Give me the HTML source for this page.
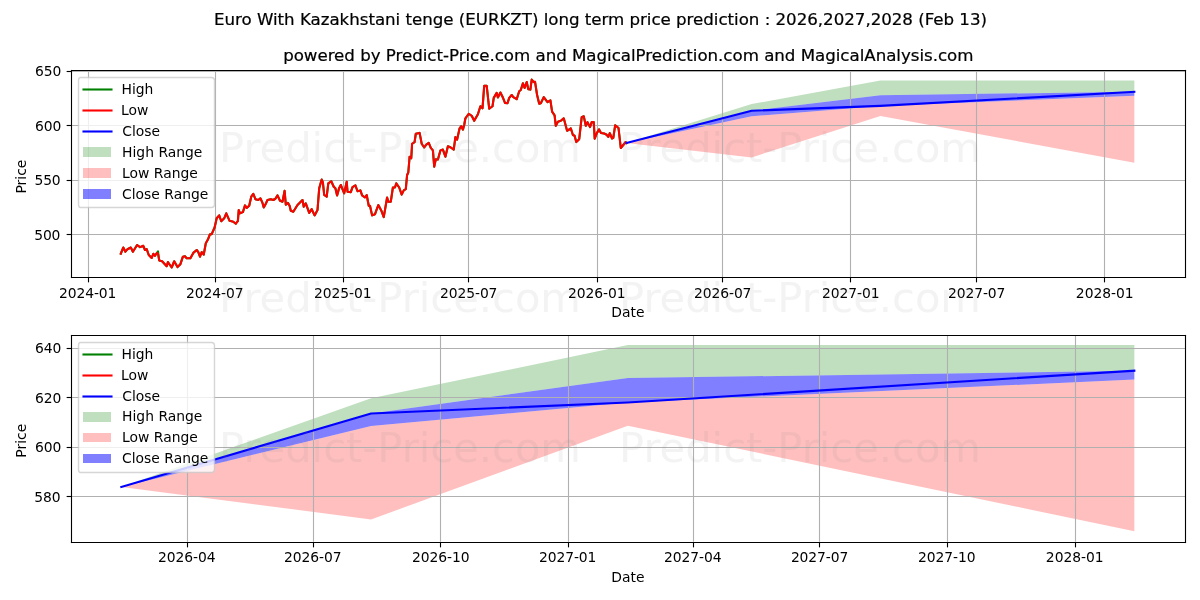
<!DOCTYPE html>
<html lang="en">
<head>
<meta charset="utf-8">
<title>EURKZT long term price prediction</title>
<style>
html,body{margin:0;padding:0;background:#fff;}
body{width:1200px;height:600px;overflow:hidden;font-family:"DejaVu Sans","Liberation Sans",sans-serif;}
svg{will-change:transform;}
svg text{font-family:"DejaVu Sans","Liberation Sans",sans-serif;}
</style>
</head>
<body>
<svg width="1200" height="600" viewBox="0 0 1200 600" style="display:block">
 <defs>
  <style type="text/css">*{stroke-linejoin: round; stroke-linecap: butt}</style>
 </defs>
 <g id="figure_1">
  <g id="patch_1">
   <path d="M 0 600 L 1200 600 L 1200 0 L 0 0 z" style="fill: #ffffff"/>
  </g>
  <g id="axes_1">
   <g id="patch_2">
    <path d="M 71 277 L 1185 277 L 1185 70 L 71 70 z" style="fill: #ffffff"/>
   </g>
   <g id="FillBetweenPolyCollection_1">
    <path d="M 626.436502 143.081598 L 626.436502 143.081598 L 751.675206 110.737345 L 880.392764 95.135999 L 1134.349025 91.874393 L 1134.349025 80.567494 L 1134.349025 80.567494 L 880.392764 80.567494 L 751.675206 104.051053 L 626.436502 143.081598 z
" clip-path="url(#p4bee99dd8d)" style="fill: #008000; fill-opacity: 0.25"/>
   </g>
   <g id="FillBetweenPolyCollection_2">
    <path d="M 626.436502 143.081598 L 626.436502 143.081598 L 751.675206 157.432662 L 880.392764 116.118994 L 1134.349025 162.651231 L 1134.349025 95.78832 L 1134.349025 95.78832 L 880.392764 105.899296 L 751.675206 116.227714 L 626.436502 143.081598 z
" clip-path="url(#p4bee99dd8d)" style="fill: #ff0000; fill-opacity: 0.25"/>
   </g>
   <g id="FillBetweenPolyCollection_3">
    <path d="M 626.436502 143.081598 L 626.436502 143.081598 L 751.675206 116.227714 L 880.392764 105.899296 L 1134.349025 95.78832 L 1134.349025 91.874393 L 1134.349025 91.874393 L 880.392764 95.135999 L 751.675206 110.737345 L 626.436502 143.081598 z
" clip-path="url(#p4bee99dd8d)" style="fill: #0000ff; fill-opacity: 0.5"/>
   </g>
   <g id="matplotlib.axis_1">
    <g id="xtick_1">
     <g id="line2d_1">
      <path d="M 88.5 277.5 L 88.5 70.5" clip-path="url(#p4bee99dd8d)" style="fill: none; stroke: #b0b0b0; stroke-width: 1.111111; stroke-linecap: square"/>
     </g>
     <g id="line2d_2">
      <defs>
       <path id="mf3acd94721" d="M 0 0 L 0 4.861111 
" style="stroke: #000000; stroke-width: 1.111111"/>
      </defs>
      <g>
       <use href="#mf3acd94721" x="88.5" y="277.5" style="stroke: #000000; stroke-width: 1.111111"/>
      </g>
     </g>
     <g id="text_1">
      <text style="font-size: 13.888889px; font-family: 'DejaVu Sans', 'Liberation Sans', sans-serif; text-anchor: middle" x="87.66" y="297.612" textLength="57.5">2024-01</text>
     </g>
    </g>
    <g id="xtick_2">
     <g id="line2d_3">
      <path d="M 215.5 277.5 L 215.5 70.5" clip-path="url(#p4bee99dd8d)" style="fill: none; stroke: #b0b0b0; stroke-width: 1.111111; stroke-linecap: square"/>
     </g>
     <g id="line2d_4">
      <g>
       <use href="#mf3acd94721" x="215.5" y="277.5" style="stroke: #000000; stroke-width: 1.111111"/>
      </g>
     </g>
     <g id="text_2">
      <text style="font-size: 13.888889px; font-family: 'DejaVu Sans', 'Liberation Sans', sans-serif; text-anchor: middle" x="214.79" y="297.612" textLength="57.375">2024-07</text>
     </g>
    </g>
    <g id="xtick_3">
     <g id="line2d_5">
      <path d="M 343.5 277.5 L 343.5 70.5" clip-path="url(#p4bee99dd8d)" style="fill: none; stroke: #b0b0b0; stroke-width: 1.111111; stroke-linecap: square"/>
     </g>
     <g id="line2d_6">
      <g>
       <use href="#mf3acd94721" x="343.5" y="277.5" style="stroke: #000000; stroke-width: 1.111111"/>
      </g>
     </g>
     <g id="text_3">
      <text style="font-size: 13.888889px; font-family: 'DejaVu Sans', 'Liberation Sans', sans-serif; text-anchor: middle" x="342.812" y="297.612" textLength="57.5">2025-01</text>
     </g>
    </g>
    <g id="xtick_4">
     <g id="line2d_7">
      <path d="M 468.5 277.5 L 468.5 70.5" clip-path="url(#p4bee99dd8d)" style="fill: none; stroke: #b0b0b0; stroke-width: 1.111111; stroke-linecap: square"/>
     </g>
     <g id="line2d_8">
      <g>
       <use href="#mf3acd94721" x="468.5" y="277.5" style="stroke: #000000; stroke-width: 1.111111"/>
      </g>
     </g>
     <g id="text_4">
      <text style="font-size: 13.888889px; font-family: 'DejaVu Sans', 'Liberation Sans', sans-serif; text-anchor: middle" x="468.747" y="297.612" textLength="57.375">2025-07</text>
     </g>
    </g>
    <g id="xtick_5">
     <g id="line2d_9">
      <path d="M 597.5 277.5 L 597.5 70.5" clip-path="url(#p4bee99dd8d)" style="fill: none; stroke: #b0b0b0; stroke-width: 1.111111; stroke-linecap: square"/>
     </g>
     <g id="line2d_10">
      <g>
       <use href="#mf3acd94721" x="597.5" y="277.5" style="stroke: #000000; stroke-width: 1.111111"/>
      </g>
     </g>
     <g id="text_5">
      <text style="font-size: 13.888889px; font-family: 'DejaVu Sans', 'Liberation Sans', sans-serif; text-anchor: middle" x="596.768" y="297.612" textLength="57.625">2026-01</text>
     </g>
    </g>
    <g id="xtick_6">
     <g id="line2d_11">
      <path d="M 722.5 277.5 L 722.5 70.5" clip-path="url(#p4bee99dd8d)" style="fill: none; stroke: #b0b0b0; stroke-width: 1.111111; stroke-linecap: square"/>
     </g>
     <g id="line2d_12">
      <g>
       <use href="#mf3acd94721" x="722.5" y="277.5" style="stroke: #000000; stroke-width: 1.111111"/>
      </g>
     </g>
     <g id="text_6">
      <text style="font-size: 13.888889px; font-family: 'DejaVu Sans', 'Liberation Sans', sans-serif; text-anchor: middle" x="722.703" y="297.612" textLength="57.5">2026-07</text>
     </g>
    </g>
    <g id="xtick_7">
     <g id="line2d_13">
      <path d="M 850.5 277.5 L 850.5 70.5" clip-path="url(#p4bee99dd8d)" style="fill: none; stroke: #b0b0b0; stroke-width: 1.111111; stroke-linecap: square"/>
     </g>
     <g id="line2d_14">
      <g>
       <use href="#mf3acd94721" x="850.5" y="277.5" style="stroke: #000000; stroke-width: 1.111111"/>
      </g>
     </g>
     <g id="text_7">
      <text style="font-size: 13.888889px; font-family: 'DejaVu Sans', 'Liberation Sans', sans-serif; text-anchor: middle" x="850.725" y="297.612" textLength="57.5">2027-01</text>
     </g>
    </g>
    <g id="xtick_8">
     <g id="line2d_15">
      <path d="M 976.5 277.5 L 976.5 70.5" clip-path="url(#p4bee99dd8d)" style="fill: none; stroke: #b0b0b0; stroke-width: 1.111111; stroke-linecap: square"/>
     </g>
     <g id="line2d_16">
      <g>
       <use href="#mf3acd94721" x="976.5" y="277.5" style="stroke: #000000; stroke-width: 1.111111"/>
      </g>
     </g>
     <g id="text_8">
      <text style="font-size: 13.888889px; font-family: 'DejaVu Sans', 'Liberation Sans', sans-serif; text-anchor: middle" x="976.659" y="297.612" textLength="57.375">2027-07</text>
     </g>
    </g>
    <g id="xtick_9">
     <g id="line2d_17">
      <path d="M 1104.5 277.5 L 1104.5 70.5" clip-path="url(#p4bee99dd8d)" style="fill: none; stroke: #b0b0b0; stroke-width: 1.111111; stroke-linecap: square"/>
     </g>
     <g id="line2d_18">
      <g>
       <use href="#mf3acd94721" x="1104.5" y="277.5" style="stroke: #000000; stroke-width: 1.111111"/>
      </g>
     </g>
     <g id="text_9">
      <text style="font-size: 13.888889px; font-family: 'DejaVu Sans', 'Liberation Sans', sans-serif; text-anchor: middle" x="1104.681" y="297.612" textLength="57.625">2028-01</text>
     </g>
    </g>
    <g id="text_10">
     <text style="font-size: 13.888889px; font-family: 'DejaVu Sans', 'Liberation Sans', sans-serif; text-anchor: middle" x="627.826889" y="317.167167" textLength="33.375">Date</text>
    </g>
   </g>
   <g id="matplotlib.axis_2">
    <g id="ytick_1">
     <g id="line2d_19">
      <path d="M 71.5 234.5 L 1185.5 234.5" clip-path="url(#p4bee99dd8d)" style="fill: none; stroke: #b0b0b0; stroke-width: 1.111111; stroke-linecap: square"/>
     </g>
     <g id="line2d_20">
      <defs>
       <path id="mcb02be6ef6" d="M 0 0 L -4.861111 0 
" style="stroke: #000000; stroke-width: 1.111111"/>
      </defs>
      <g>
       <use href="#mcb02be6ef6" x="71.5" y="234.5" style="stroke: #000000; stroke-width: 1.111111"/>
      </g>
     </g>
     <g id="text_11">
      <text style="font-size: 13.888889px; font-family: 'DejaVu Sans', 'Liberation Sans', sans-serif; text-anchor: end" x="60.431" y="239.58" textLength="26.25">500</text>
     </g>
    </g>
    <g id="ytick_2">
     <g id="line2d_21">
      <path d="M 71.5 180.5 L 1185.5 180.5" clip-path="url(#p4bee99dd8d)" style="fill: none; stroke: #b0b0b0; stroke-width: 1.111111; stroke-linecap: square"/>
     </g>
     <g id="line2d_22">
      <g>
       <use href="#mcb02be6ef6" x="71.5" y="180.5" style="stroke: #000000; stroke-width: 1.111111"/>
      </g>
     </g>
     <g id="text_12">
      <text style="font-size: 13.888889px; font-family: 'DejaVu Sans', 'Liberation Sans', sans-serif; text-anchor: end" x="60.681" y="185.22" textLength="26.25">550</text>
     </g>
    </g>
    <g id="ytick_3">
     <g id="line2d_23">
      <path d="M 71.5 125.5 L 1185.5 125.5" clip-path="url(#p4bee99dd8d)" style="fill: none; stroke: #b0b0b0; stroke-width: 1.111111; stroke-linecap: square"/>
     </g>
     <g id="line2d_24">
      <g>
       <use href="#mcb02be6ef6" x="71.5" y="125.5" style="stroke: #000000; stroke-width: 1.111111"/>
      </g>
     </g>
     <g id="text_13">
      <text style="font-size: 13.888889px; font-family: 'DejaVu Sans', 'Liberation Sans', sans-serif; text-anchor: end" x="61.431" y="130.86" textLength="26.375">600</text>
     </g>
    </g>
    <g id="ytick_4">
     <g id="line2d_25">
      <path d="M 71.5 71.5 L 1185.5 71.5" clip-path="url(#p4bee99dd8d)" style="fill: none; stroke: #b0b0b0; stroke-width: 1.111111; stroke-linecap: square"/>
     </g>
     <g id="line2d_26">
      <g>
       <use href="#mcb02be6ef6" x="71.5" y="71.5" style="stroke: #000000; stroke-width: 1.111111"/>
      </g>
     </g>
     <g id="text_14">
      <text style="font-size: 13.888889px; font-family: 'DejaVu Sans', 'Liberation Sans', sans-serif; text-anchor: end" x="61.431" y="75.5" textLength="26.375">650</text>
     </g>
    </g>
    <g id="text_15">
     <text style="font-size: 13.888889px; font-family: 'DejaVu Sans', 'Liberation Sans', sans-serif; text-anchor: middle" x="26" y="173.611361" transform="translate(0 3) rotate(-90 26 173.611361)" textLength="33.875">Price</text>
    </g>
   </g>
   <g id="line2d_27">
    <path d="M 120.800101 253.750423 L 123.300103 247.500413 L 125.400104 251.70042 L 127.500106 249.200415 L 130.800109 247.500413 L 132.900111 251.70042 L 137.100114 245.000408 L 140.000117 247.100412 L 143.300119 245.80041 L 145.000121 250.000417 L 146.700122 249.200415 L 148.750124 255.000425 L 151.700126 257.90043 L 153.300128 253.750423 L 155.000129 255.800426 L 156.800131 253.000422 L 158.000132 251.400419 L 159.200133 260.400434 L 162.100135 261.250435 L 166.700139 266.250444 L 167.90014 262.100437 L 171.700143 267.500446 L 174.200145 261.250435 L 177.500148 267.100445 L 180.40015 264.20044 L 182.900152 256.700428 L 185.000154 256.250427 L 186.700156 258.300431 L 190.400159 258.300431 L 193.300161 252.900422 L 196.700164 250.000417 L 198.300165 252.10042 L 200.000167 256.700428 L 201.700168 252.10042 L 203.75017 254.600424 L 205.800171 243.300406 L 207.900173 239.600399 L 210.000175 234.20039 L 211.700176 234.20039 L 214.600179 227.500379 L 216.700181 218.300364 L 219.200183 215.400359 L 221.250184 221.250369 L 224.200187 218.300364 L 226.250189 213.300356 L 229.600191 220.800368 L 233.300194 221.700369 L 235.800196 223.750373 L 237.900198 220.800368 L 238.750199 210.00035 L 240.0002 213.300356 L 242.900202 212.100354 L 245.000204 205.400342 L 246.700206 207.900347 L 249.200208 205.800343 L 251.250209 196.700328 L 253.300211 193.750323 L 255.400213 199.200332 L 258.300215 200.000333 L 260.400217 198.300331 L 262.500219 202.900338 L 263.75022 207.500346 L 265.400221 204.600341 L 267.500223 200.000333 L 270.800226 199.200332 L 273.300228 200.000333 L 275.400229 198.750331 L 277.500231 195.400326 L 280.000233 200.800335 L 282.500235 201.700336 L 284.600237 190.800318 L 285.800238 204.600341 L 287.90024 202.900338 L 289.600241 205.800343 L 290.800242 210.800351 L 293.300244 211.700353 L 297.500248 205.000342 L 302.500252 200.000333 L 303.750253 206.700345 L 305.800255 203.300339 L 309.200258 212.900355 L 311.70026 209.200349 L 314.600262 215.400359 L 317.500265 210.00035 L 319.200266 188.300314 L 321.700268 179.600299 L 322.900269 182.500304 L 324.20027 195.000325 L 326.700272 196.700328 L 328.300274 183.300306 L 331.250276 181.250302 L 333.750278 186.700311 L 335.400279 188.300314 L 337.100281 195.400326 L 339.200283 187.900313 L 340.800284 185.000308 L 344.200287 193.300322 L 346.700289 181.700303 L 347.50029 191.70032 L 350.800292 192.10032 L 352.500294 187.100312 L 355.400296 185.400309 L 357.500298 191.250319 L 360.4003 190.400317 L 362.100302 195.400326 L 365.000304 197.500329 L 366.700306 195.000325 L 368.750307 205.800343 L 370.000308 205.800343 L 372.10031 215.400359 L 375.000312 214.200357 L 378.300315 205.000342 L 381.250318 210.400351 L 383.75032 217.100362 L 387.100323 197.500329 L 388.300324 201.700336 L 390.800326 201.700336 L 392.900327 187.500313 L 395.000329 187.500313 L 396.25033 183.300306 L 399.200333 187.500313 L 401.700335 194.600324 L 403.750336 190.400317 L 405.800338 189.200315 L 407.100339 175.000292 L 408.30034 172.500288 L 409.600341 156.700261 L 411.250343 158.300264 L 412.100343 143.75024 L 414.600345 142.100237 L 415.800346 133.750223 L 419.60035 132.900222 L 421.700351 143.75024 L 424.200353 147.500246 L 426.250355 144.600241 L 428.750357 142.900238 L 430.800359 147.900247 L 432.900361 150.400251 L 434.200362 166.700278 L 435.800363 159.200265 L 437.900365 159.600266 L 440.400367 150.400251 L 442.900369 149.600249 L 445.400371 156.700261 L 447.900373 146.250244 L 450.800376 147.500246 L 453.750378 149.600249 L 455.400379 137.100229 L 457.100381 139.600233 L 459.600383 128.300214 L 461.250384 126.25021 L 462.900386 129.600216 L 464.200387 125.000208 L 465.400388 118.300197 L 468.750391 113.75019 L 471.700393 115.800193 L 474.200395 120.800201 L 477.900398 114.20019 L 480.4004 106.250177 L 482.500402 108.300181 L 484.200403 85.800143 L 486.700406 85.800143 L 489.200408 108.750181 L 492.50041 106.250177 L 493.750411 97.900163 L 496.700414 92.900155 L 497.900415 97.500163 L 500.400417 92.500154 L 502.500419 96.700161 L 505.000421 102.900172 L 507.500423 103.300172 L 509.200424 97.900163 L 511.700426 95.000158 L 513.300428 97.100162 L 516.700431 99.200165 L 519.200433 91.250152 L 520.800434 90.00015 L 522.900436 83.300139 L 524.600437 87.900147 L 526.700439 82.100137 L 528.30044 89.200149 L 530.400442 89.600149 L 531.700443 79.600133 L 533.750445 82.100137 L 535.000446 81.700136 L 537.100448 95.000158 L 539.200449 103.750173 L 540.800451 103.300172 L 543.750453 97.100162 L 547.500456 102.10017 L 550.400459 100.400167 L 552.10046 111.700186 L 554.600462 115.400192 L 555.800463 125.80021 L 557.900465 121.700203 L 560.800467 120.800201 L 563.75047 118.300197 L 567.100473 130.800218 L 570.800476 128.300214 L 572.900477 135.000225 L 574.600479 135.800226 L 576.25048 142.100237 L 579.200483 139.200232 L 581.700485 117.100195 L 583.750486 116.250194 L 585.800488 125.80021 L 587.50049 122.100204 L 590.000492 127.100212 L 591.700493 122.100204 L 593.750495 122.100204 L 594.700496 138.700231 L 596.700497 133.400222 L 599.100499 129.400216 L 601.000501 133.000222 L 604.100503 133.500223 L 606.700506 134.800225 L 608.300507 137.000228 L 609.800508 133.100222 L 612.00051 138.500231 L 613.300511 137.80023 L 615.200513 125.200209 L 618.500515 128.000213 L 620.800517 148.000247 L 625.700521 142.000237 L 626.436502 143.081598 L 626.436502 143.081598 
" clip-path="url(#p4bee99dd8d)" style="fill: none; stroke: #008000; stroke-width: 2.083333; stroke-linecap: square"/>
   </g>
   <g id="line2d_28">
    <path d="M 120.800101 253.750423 L 123.300103 247.500413 L 125.400104 251.70042 L 127.500106 249.200415 L 130.800109 247.500413 L 132.900111 251.70042 L 137.100114 245.000408 L 140.000117 247.100412 L 143.300119 245.80041 L 145.000121 250.000417 L 146.700122 249.200415 L 148.750124 255.000425 L 151.700126 257.90043 L 153.300128 253.750423 L 155.000129 255.800426 L 156.800131 253.000422 L 158.000132 253.800423 L 159.200133 260.400434 L 162.100135 261.250435 L 166.700139 266.250444 L 167.90014 262.100437 L 171.700143 267.500446 L 174.200145 261.250435 L 177.500148 267.100445 L 180.40015 264.20044 L 182.900152 256.700428 L 185.000154 256.250427 L 186.700156 258.300431 L 190.400159 258.300431 L 193.300161 252.900422 L 196.700164 250.000417 L 198.300165 252.10042 L 200.000167 256.700428 L 201.700168 252.10042 L 203.75017 254.600424 L 205.800171 243.300406 L 207.900173 239.600399 L 210.000175 234.20039 L 211.700176 234.20039 L 214.600179 227.500379 L 216.700181 218.300364 L 219.200183 215.400359 L 221.250184 221.250369 L 224.200187 218.300364 L 226.250189 213.300356 L 229.600191 220.800368 L 233.300194 221.700369 L 235.800196 223.750373 L 237.900198 220.800368 L 238.750199 210.00035 L 240.0002 213.300356 L 242.900202 212.100354 L 245.000204 205.400342 L 246.700206 207.900347 L 249.200208 205.800343 L 251.250209 196.700328 L 253.300211 193.750323 L 255.400213 199.200332 L 258.300215 200.000333 L 260.400217 198.300331 L 262.500219 202.900338 L 263.75022 207.500346 L 265.400221 204.600341 L 267.500223 200.000333 L 270.800226 199.200332 L 273.300228 200.000333 L 275.400229 198.750331 L 277.500231 195.400326 L 280.000233 200.800335 L 282.500235 201.700336 L 284.600237 190.800318 L 285.800238 204.600341 L 287.90024 202.900338 L 289.600241 205.800343 L 290.800242 210.800351 L 293.300244 211.700353 L 297.500248 205.000342 L 302.500252 200.000333 L 303.750253 206.700345 L 305.800255 203.300339 L 309.200258 212.900355 L 311.70026 209.200349 L 314.600262 215.400359 L 317.500265 210.00035 L 319.200266 188.300314 L 321.700268 179.600299 L 322.900269 182.500304 L 324.20027 195.000325 L 326.700272 196.700328 L 328.300274 183.300306 L 331.250276 181.250302 L 333.750278 186.700311 L 335.400279 188.300314 L 337.100281 195.400326 L 339.200283 187.900313 L 340.800284 185.000308 L 344.200287 193.300322 L 346.700289 181.700303 L 347.50029 191.70032 L 350.800292 192.10032 L 352.500294 187.100312 L 355.400296 185.400309 L 357.500298 191.250319 L 360.4003 190.400317 L 362.100302 195.400326 L 365.000304 197.500329 L 366.700306 195.000325 L 368.750307 205.800343 L 370.000308 205.800343 L 372.10031 215.400359 L 375.000312 214.200357 L 378.300315 205.000342 L 381.250318 210.400351 L 383.75032 217.100362 L 387.100323 197.500329 L 388.300324 201.700336 L 390.800326 201.700336 L 392.900327 187.500313 L 395.000329 187.500313 L 396.25033 183.300306 L 399.200333 187.500313 L 401.700335 194.600324 L 403.750336 190.400317 L 405.800338 189.200315 L 407.100339 175.000292 L 408.30034 172.500288 L 409.600341 156.700261 L 411.250343 158.300264 L 412.100343 143.75024 L 414.600345 142.100237 L 415.800346 133.750223 L 419.60035 132.900222 L 421.700351 143.75024 L 424.200353 147.500246 L 426.250355 144.600241 L 428.750357 142.900238 L 430.800359 147.900247 L 432.900361 150.400251 L 434.200362 166.700278 L 435.800363 159.200265 L 437.900365 159.600266 L 440.400367 150.400251 L 442.900369 149.600249 L 445.400371 156.700261 L 447.900373 146.250244 L 450.800376 147.500246 L 453.750378 149.600249 L 455.400379 137.100229 L 457.100381 139.600233 L 459.600383 128.300214 L 461.250384 126.25021 L 462.900386 129.600216 L 464.200387 125.000208 L 465.400388 118.300197 L 468.750391 113.75019 L 471.700393 115.800193 L 474.200395 120.800201 L 477.900398 114.20019 L 480.4004 106.250177 L 482.500402 108.300181 L 484.200403 85.800143 L 486.700406 85.800143 L 489.200408 108.750181 L 492.50041 106.250177 L 493.750411 97.900163 L 496.700414 92.900155 L 497.900415 97.500163 L 500.400417 92.500154 L 502.500419 96.700161 L 505.000421 102.900172 L 507.500423 103.300172 L 509.200424 97.900163 L 511.700426 95.000158 L 513.300428 97.100162 L 516.700431 99.200165 L 519.200433 91.250152 L 520.800434 90.00015 L 522.900436 83.300139 L 524.600437 87.900147 L 526.700439 82.100137 L 528.30044 89.200149 L 530.400442 89.600149 L 531.700443 79.600133 L 533.750445 82.100137 L 535.000446 81.700136 L 537.100448 95.000158 L 539.200449 103.750173 L 540.800451 103.300172 L 543.750453 97.100162 L 547.500456 102.10017 L 550.400459 100.400167 L 552.10046 111.700186 L 554.600462 115.400192 L 555.800463 125.80021 L 557.900465 121.700203 L 560.800467 120.800201 L 563.75047 118.300197 L 567.100473 130.800218 L 570.800476 128.300214 L 572.900477 135.000225 L 574.600479 135.800226 L 576.25048 142.100237 L 579.200483 139.200232 L 581.700485 117.100195 L 583.750486 116.250194 L 585.800488 125.80021 L 587.50049 122.100204 L 590.000492 127.100212 L 591.700493 122.100204 L 593.750495 122.100204 L 594.700496 138.700231 L 596.700497 133.400222 L 599.100499 129.400216 L 601.000501 133.000222 L 604.100503 133.500223 L 606.700506 134.800225 L 608.300507 137.000228 L 609.800508 133.100222 L 612.00051 138.500231 L 613.300511 137.80023 L 615.200513 125.200209 L 618.500515 128.000213 L 620.800517 148.000247 L 625.700521 142.000237 L 626.436502 143.081598 L 626.436502 143.081598 
" clip-path="url(#p4bee99dd8d)" style="fill: none; stroke: #ff0000; stroke-width: 2.083333; stroke-linecap: square"/>
   </g>
   <g id="line2d_29">
    <path d="M 626.436502 143.081598 L 751.675206 110.737345 L 880.392764 105.899296 L 1134.349025 91.874393 
" clip-path="url(#p4bee99dd8d)" style="fill: none; stroke: #0000ff; stroke-width: 2.083333; stroke-linecap: square"/>
   </g>
   <g id="patch_3">
    <path d="M 71.5 277.5 L 71.5 70.5" style="fill: none; stroke: #000000; stroke-width: 1.111111; stroke-linejoin: miter; stroke-linecap: square"/>
   </g>
   <g id="patch_4">
    <path d="M 1185.5 277.5 L 1185.5 70.5" style="fill: none; stroke: #000000; stroke-width: 1.111111; stroke-linejoin: miter; stroke-linecap: square"/>
   </g>
   <g id="patch_5">
    <path d="M 71.5 277.5 L 1185.5 277.5" style="fill: none; stroke: #000000; stroke-width: 1.111111; stroke-linejoin: miter; stroke-linecap: square"/>
   </g>
   <g id="patch_6">
    <path d="M 71.5 70.5 L 1185.5 70.5" style="fill: none; stroke: #000000; stroke-width: 1.111111; stroke-linejoin: miter; stroke-linecap: square"/>
   </g>
   <g id="text_16">
    <text style="stroke: #000000; stroke-width: 0.22; font-size: 16.666667px; font-family: 'DejaVu Sans', 'Liberation Sans', sans-serif; text-anchor: middle" x="628.327" y="61.25" textLength="690.375">powered by Predict-Price.com and MagicalPrediction.com and MagicalAnalysis.com</text>
   </g>
   <g id="legend_1">
    <g id="patch_7">
     <path d="M 80.5 207.5 L 211.5 207.5 Q 214.5 207.5 214.5 204.5 L 214.5 80.5 Q 214.5 77.5 211.5 77.5 L 80.5 77.5 Q 78.5 77.5 78.5 80.5 L 78.5 204.5 Q 78.5 207.5 80.5 207.5 z" style="fill: #ffffff; opacity: 0.8; stroke: #cccccc; stroke-width: 1.388889; stroke-linejoin: miter"/>
    </g>
    <g id="line2d_30">
     <path d="M 83.5 89.5 L 97.5 89.5 L 111.5 89.5" style="fill: none; stroke: #008000; stroke-width: 2.083333; stroke-linecap: square"/>
    </g>
    <g id="text_17">
     <text style="font-size: 13.888889px; font-family: 'DejaVu Sans', 'Liberation Sans', sans-serif; text-anchor: start" x="121.542" y="93.833" textLength="31.875">High</text>
    </g>
    <g id="line2d_31">
     <path d="M 83.5 110.5 L 97.5 110.5 L 111.5 110.5" style="fill: none; stroke: #ff0000; stroke-width: 2.083333; stroke-linecap: square"/>
    </g>
    <g id="text_18">
     <text style="font-size: 13.888889px; font-family: 'DejaVu Sans', 'Liberation Sans', sans-serif; text-anchor: start" x="121.042" y="114.778" textLength="27.375">Low</text>
    </g>
    <g id="line2d_32">
     <path d="M 83.5 131.5 L 97.5 131.5 L 111.5 131.5" style="fill: none; stroke: #0000ff; stroke-width: 2.083333; stroke-linecap: square"/>
    </g>
    <g id="text_19">
     <text style="font-size: 13.888889px; font-family: 'DejaVu Sans', 'Liberation Sans', sans-serif; text-anchor: start" x="122.292" y="135.722" textLength="37.75">Close</text>
    </g>
    <g id="patch_8">
     <path d="M 83 157 L 111 157 L 111 147 L 83 147 z" style="fill: #008000; fill-opacity: 0.25"/>
    </g>
    <g id="text_20">
     <text style="font-size: 13.888889px; font-family: 'DejaVu Sans', 'Liberation Sans', sans-serif; text-anchor: start" x="122.041667" y="156.666667" textLength="80.375">High Range</text>
    </g>
    <g id="patch_9">
     <path d="M 83 178 L 111 178 L 111 168 L 83 168 z" style="fill: #ff0000; fill-opacity: 0.25"/>
    </g>
    <g id="text_21">
     <text style="font-size: 13.888889px; font-family: 'DejaVu Sans', 'Liberation Sans', sans-serif; text-anchor: start" x="122.041667" y="177.611111" textLength="75.875">Low Range</text>
    </g>
    <g id="patch_10">
     <path d="M 83 199 L 111 199 L 111 189 L 83 189 z" style="fill: #0000ff; fill-opacity: 0.5"/>
    </g>
    <g id="text_22">
     <text style="font-size: 13.888889px; font-family: 'DejaVu Sans', 'Liberation Sans', sans-serif; text-anchor: start" x="122.041667" y="198.555556" textLength="86.25">Close Range</text>
    </g>
   </g>
  </g>
  <g id="axes_2">
   <g id="patch_11">
    <path d="M 71 542 L 1185 542 L 1185 335 L 71 335 z" style="fill: #ffffff"/>
   </g>
   <g id="FillBetweenPolyCollection_4">
    <path d="M 121.30497 486.876021 L 121.30497 486.876021 L 371.096601 413.491574 L 627.826889 378.09437 L 1134.348808 370.694258 L 1134.348808 345.040535 L 1134.348808 345.040535 L 627.826889 345.040535 L 371.096601 398.321344 L 121.30497 486.876021 z
" clip-path="url(#p1dae02545b)" style="fill: #008000; fill-opacity: 0.25"/>
   </g>
   <g id="FillBetweenPolyCollection_5">
    <path d="M 121.30497 486.876021 L 121.30497 486.876021 L 371.096601 519.436516 L 627.826889 425.70176 L 1134.348808 531.276695 L 1134.348808 379.574393 L 1134.348808 379.574393 L 627.826889 402.514741 L 371.096601 425.94843 L 121.30497 486.876021 z
" clip-path="url(#p1dae02545b)" style="fill: #ff0000; fill-opacity: 0.25"/>
   </g>
   <g id="FillBetweenPolyCollection_6">
    <path d="M 121.30497 486.876021 L 121.30497 486.876021 L 371.096601 425.94843 L 627.826889 402.514741 L 1134.348808 379.574393 L 1134.348808 370.694258 L 1134.348808 370.694258 L 627.826889 378.09437 L 371.096601 413.491574 L 121.30497 486.876021 z
" clip-path="url(#p1dae02545b)" style="fill: #0000ff; fill-opacity: 0.5"/>
   </g>
   <g id="matplotlib.axis_3">
    <g id="xtick_10">
     <g id="line2d_33">
      <path d="M 187.5 542.5 L 187.5 335.5" clip-path="url(#p1dae02545b)" style="fill: none; stroke: #b0b0b0; stroke-width: 1.111111; stroke-linecap: square"/>
     </g>
     <g id="line2d_34">
      <g>
       <use href="#mf3acd94721" x="187.5" y="542.5" style="stroke: #000000; stroke-width: 1.111111"/>
      </g>
     </g>
     <g id="text_23">
      <text style="font-size: 13.888889px; font-family: 'DejaVu Sans', 'Liberation Sans', sans-serif; text-anchor: middle" x="186.778" y="562.445" textLength="57.5">2026-04</text>
     </g>
    </g>
    <g id="xtick_11">
     <g id="line2d_35">
      <path d="M 313.5 542.5 L 313.5 335.5" clip-path="url(#p1dae02545b)" style="fill: none; stroke: #b0b0b0; stroke-width: 1.111111; stroke-linecap: square"/>
     </g>
     <g id="line2d_36">
      <g>
       <use href="#mf3acd94721" x="313.5" y="542.5" style="stroke: #000000; stroke-width: 1.111111"/>
      </g>
     </g>
     <g id="text_24">
      <text style="font-size: 13.888889px; font-family: 'DejaVu Sans', 'Liberation Sans', sans-serif; text-anchor: middle" x="312.811887" y="562.445444" textLength="57.5">2026-07</text>
     </g>
    </g>
    <g id="xtick_12">
     <g id="line2d_37">
      <path d="M 440.5 542.5 L 440.5 335.5" clip-path="url(#p1dae02545b)" style="fill: none; stroke: #b0b0b0; stroke-width: 1.111111; stroke-linecap: square"/>
     </g>
     <g id="line2d_38">
      <g>
       <use href="#mf3acd94721" x="440.5" y="542.5" style="stroke: #000000; stroke-width: 1.111111"/>
      </g>
     </g>
     <g id="text_25">
      <text style="font-size: 13.888889px; font-family: 'DejaVu Sans', 'Liberation Sans', sans-serif; text-anchor: middle" x="440.733" y="562.445" textLength="57.625">2026-10</text>
     </g>
    </g>
    <g id="xtick_13">
     <g id="line2d_39">
      <path d="M 568.5 542.5 L 568.5 335.5" clip-path="url(#p1dae02545b)" style="fill: none; stroke: #b0b0b0; stroke-width: 1.111111; stroke-linecap: square"/>
     </g>
     <g id="line2d_40">
      <g>
       <use href="#mf3acd94721" x="568.5" y="542.5" style="stroke: #000000; stroke-width: 1.111111"/>
      </g>
     </g>
     <g id="text_26">
      <text style="font-size: 13.888889px; font-family: 'DejaVu Sans', 'Liberation Sans', sans-serif; text-anchor: middle" x="567.654" y="562.445" textLength="57.5">2027-01</text>
     </g>
    </g>
    <g id="xtick_14">
     <g id="line2d_41">
      <path d="M 693.5 542.5 L 693.5 335.5" clip-path="url(#p1dae02545b)" style="fill: none; stroke: #b0b0b0; stroke-width: 1.111111; stroke-linecap: square"/>
     </g>
     <g id="line2d_42">
      <g>
       <use href="#mf3acd94721" x="693.5" y="542.5" style="stroke: #000000; stroke-width: 1.111111"/>
      </g>
     </g>
     <g id="text_27">
      <text style="font-size: 13.888889px; font-family: 'DejaVu Sans', 'Liberation Sans', sans-serif; text-anchor: middle" x="692.8" y="562.445" textLength="57.375">2027-04</text>
     </g>
    </g>
    <g id="xtick_15">
     <g id="line2d_43">
      <path d="M 819.5 542.5 L 819.5 335.5" clip-path="url(#p1dae02545b)" style="fill: none; stroke: #b0b0b0; stroke-width: 1.111111; stroke-linecap: square"/>
     </g>
     <g id="line2d_44">
      <g>
       <use href="#mf3acd94721" x="819.5" y="542.5" style="stroke: #000000; stroke-width: 1.111111"/>
      </g>
     </g>
     <g id="text_28">
      <text style="font-size: 13.888889px; font-family: 'DejaVu Sans', 'Liberation Sans', sans-serif; text-anchor: middle" x="819.584" y="562.445" textLength="57.375">2027-07</text>
     </g>
    </g>
    <g id="xtick_16">
     <g id="line2d_45">
      <path d="M 947.5 542.5 L 947.5 335.5" clip-path="url(#p1dae02545b)" style="fill: none; stroke: #b0b0b0; stroke-width: 1.111111; stroke-linecap: square"/>
     </g>
     <g id="line2d_46">
      <g>
       <use href="#mf3acd94721" x="947.5" y="542.5" style="stroke: #000000; stroke-width: 1.111111"/>
      </g>
     </g>
     <g id="text_29">
      <text style="font-size: 13.888889px; font-family: 'DejaVu Sans', 'Liberation Sans', sans-serif; text-anchor: middle" x="946.755" y="562.445" textLength="57.5">2027-10</text>
     </g>
    </g>
    <g id="xtick_17">
     <g id="line2d_47">
      <path d="M 1075.5 542.5 L 1075.5 335.5" clip-path="url(#p1dae02545b)" style="fill: none; stroke: #b0b0b0; stroke-width: 1.111111; stroke-linecap: square"/>
     </g>
     <g id="line2d_48">
      <g>
       <use href="#mf3acd94721" x="1075.5" y="542.5" style="stroke: #000000; stroke-width: 1.111111"/>
      </g>
     </g>
     <g id="text_30">
      <text style="font-size: 13.888889px; font-family: 'DejaVu Sans', 'Liberation Sans', sans-serif; text-anchor: middle" x="1074.676363" y="562.445444" textLength="57.625">2028-01</text>
     </g>
    </g>
    <g id="text_31">
     <text style="font-size: 13.888889px; font-family: 'DejaVu Sans', 'Liberation Sans', sans-serif; text-anchor: middle" x="627.826889" y="582.001" textLength="33.375">Date</text>
    </g>
   </g>
   <g id="matplotlib.axis_4">
    <g id="ytick_5">
     <g id="line2d_49">
      <path d="M 71.5 496.5 L 1185.5 496.5" clip-path="url(#p1dae02545b)" style="fill: none; stroke: #b0b0b0; stroke-width: 1.111111; stroke-linecap: square"/>
     </g>
     <g id="line2d_50">
      <g>
       <use href="#mcb02be6ef6" x="71.5" y="496.5" style="stroke: #000000; stroke-width: 1.111111"/>
      </g>
     </g>
     <g id="text_32">
      <text style="font-size: 13.888889px; font-family: 'DejaVu Sans', 'Liberation Sans', sans-serif; text-anchor: end" x="60.681" y="501.503" textLength="26.375">580</text>
     </g>
    </g>
    <g id="ytick_6">
     <g id="line2d_51">
      <path d="M 71.5 447.5 L 1185.5 447.5" clip-path="url(#p1dae02545b)" style="fill: none; stroke: #b0b0b0; stroke-width: 1.111111; stroke-linecap: square"/>
     </g>
     <g id="line2d_52">
      <g>
       <use href="#mcb02be6ef6" x="71.5" y="447.5" style="stroke: #000000; stroke-width: 1.111111"/>
      </g>
     </g>
     <g id="text_33">
      <text style="font-size: 13.888889px; font-family: 'DejaVu Sans', 'Liberation Sans', sans-serif; text-anchor: end" x="61.431" y="452.169" textLength="26.375">600</text>
     </g>
    </g>
    <g id="ytick_7">
     <g id="line2d_53">
      <path d="M 71.5 397.5 L 1185.5 397.5" clip-path="url(#p1dae02545b)" style="fill: none; stroke: #b0b0b0; stroke-width: 1.111111; stroke-linecap: square"/>
     </g>
     <g id="line2d_54">
      <g>
       <use href="#mcb02be6ef6" x="71.5" y="397.5" style="stroke: #000000; stroke-width: 1.111111"/>
      </g>
     </g>
     <g id="text_34">
      <text style="font-size: 13.888889px; font-family: 'DejaVu Sans', 'Liberation Sans', sans-serif; text-anchor: end" x="61.431" y="402.835" textLength="26.375">620</text>
     </g>
    </g>
    <g id="ytick_8">
     <g id="line2d_55">
      <path d="M 71.5 348.5 L 1185.5 348.5" clip-path="url(#p1dae02545b)" style="fill: none; stroke: #b0b0b0; stroke-width: 1.111111; stroke-linecap: square"/>
     </g>
     <g id="line2d_56">
      <g>
       <use href="#mcb02be6ef6" x="71.5" y="348.5" style="stroke: #000000; stroke-width: 1.111111"/>
      </g>
     </g>
     <g id="text_35">
      <text style="font-size: 13.888889px; font-family: 'DejaVu Sans', 'Liberation Sans', sans-serif; text-anchor: end" x="61.431" y="352.501" textLength="26.375">640</text>
     </g>
    </g>
    <g id="text_36">
     <text style="font-size: 13.888889px; font-family: 'DejaVu Sans', 'Liberation Sans', sans-serif; text-anchor: middle" x="26" y="438.445194" transform="translate(0 2.25) rotate(-90 26 438.445194)" textLength="33.875">Price</text>
    </g>
   </g>
   <g id="line2d_57"/>
   <g id="line2d_58"/>
   <g id="line2d_59">
    <path d="M 121.30497 486.876021 L 371.096601 413.491574 L 627.826889 402.514741 L 1134.348808 370.694258 
" clip-path="url(#p1dae02545b)" style="fill: none; stroke: #0000ff; stroke-width: 2.083333; stroke-linecap: square"/>
   </g>
   <g id="patch_12">
    <path d="M 71.5 542.5 L 71.5 335.5" style="fill: none; stroke: #000000; stroke-width: 1.111111; stroke-linejoin: miter; stroke-linecap: square"/>
   </g>
   <g id="patch_13">
    <path d="M 1185.5 542.5 L 1185.5 335.5" style="fill: none; stroke: #000000; stroke-width: 1.111111; stroke-linejoin: miter; stroke-linecap: square"/>
   </g>
   <g id="patch_14">
    <path d="M 71.5 542.5 L 1185.5 542.5" style="fill: none; stroke: #000000; stroke-width: 1.111111; stroke-linejoin: miter; stroke-linecap: square"/>
   </g>
   <g id="patch_15">
    <path d="M 71.5 335.5 L 1185.5 335.5" style="fill: none; stroke: #000000; stroke-width: 1.111111; stroke-linejoin: miter; stroke-linecap: square"/>
   </g>
   <g id="legend_2">
    <g id="patch_16">
     <path d="M 80.5 472.5 L 211.5 472.5 Q 214.5 472.5 214.5 469.5 L 214.5 345.5 Q 214.5 342.5 211.5 342.5 L 80.5 342.5 Q 78.5 342.5 78.5 345.5 L 78.5 469.5 Q 78.5 472.5 80.5 472.5 z" style="fill: #ffffff; opacity: 0.8; stroke: #cccccc; stroke-width: 1.388889; stroke-linejoin: miter"/>
    </g>
    <g id="line2d_60">
     <path d="M 83.5 354.5 L 97.5 354.5 L 111.5 354.5" style="fill: none; stroke: #008000; stroke-width: 2.083333; stroke-linecap: square"/>
    </g>
    <g id="text_37">
     <text style="font-size: 13.888889px; font-family: 'DejaVu Sans', 'Liberation Sans', sans-serif; text-anchor: start" x="121.542" y="358.667" textLength="31.875">High</text>
    </g>
    <g id="line2d_61">
     <path d="M 83.5 375.5 L 97.5 375.5 L 111.5 375.5" style="fill: none; stroke: #ff0000; stroke-width: 2.083333; stroke-linecap: square"/>
    </g>
    <g id="text_38">
     <text style="font-size: 13.888889px; font-family: 'DejaVu Sans', 'Liberation Sans', sans-serif; text-anchor: start" x="121.042" y="379.612" textLength="27.375">Low</text>
    </g>
    <g id="line2d_62">
     <path d="M 83.5 396.5 L 97.5 396.5 L 111.5 396.5" style="fill: none; stroke: #0000ff; stroke-width: 2.083333; stroke-linecap: square"/>
    </g>
    <g id="text_39">
     <text style="font-size: 13.888889px; font-family: 'DejaVu Sans', 'Liberation Sans', sans-serif; text-anchor: start" x="122.292" y="400.556" textLength="37.75">Close</text>
    </g>
    <g id="patch_17">
     <path d="M 83 422 L 111 422 L 111 412 L 83 412 z" style="fill: #008000; fill-opacity: 0.25"/>
    </g>
    <g id="text_40">
     <text style="font-size: 13.888889px; font-family: 'DejaVu Sans', 'Liberation Sans', sans-serif; text-anchor: start" x="122.042" y="420.5" textLength="80.375">High Range</text>
    </g>
    <g id="patch_18">
     <path d="M 83 442 L 111 442 L 111 433 L 83 433 z" style="fill: #ff0000; fill-opacity: 0.25"/>
    </g>
    <g id="text_41">
     <text style="font-size: 13.888889px; font-family: 'DejaVu Sans', 'Liberation Sans', sans-serif; text-anchor: start" x="122.041667" y="442.444944" textLength="75.875">Low Range</text>
    </g>
    <g id="patch_19">
     <path d="M 83 463 L 111 463 L 111 454 L 83 454 z" style="fill: #0000ff; fill-opacity: 0.5"/>
    </g>
    <g id="text_42">
     <text style="font-size: 13.888889px; font-family: 'DejaVu Sans', 'Liberation Sans', sans-serif; text-anchor: start" x="122.041667" y="463.389389" textLength="86.25">Close Range</text>
    </g>
   </g>
  </g>
  <g id="text_43">
   <text style="stroke: #000000; stroke-width: 0.22; font-size: 16.666667px; font-family: 'DejaVu Sans', 'Liberation Sans', sans-serif; text-anchor: middle" x="600.5" y="25.25" textLength="773">Euro With Kazakhstani tenge (EURKZT) long term price prediction : 2026,2027,2028 (Feb 13)</text>
  </g>
  <g id="text_44">
   <text style="font-size: 41.666667px; font-family: 'DejaVu Sans', 'Liberation Sans', sans-serif; text-anchor: middle; fill: #808080; opacity: 0.09" x="400.000333" y="462.00075" textLength="361.875">Predict-Price.com</text>
  </g>
  <g id="text_45">
   <text style="font-size: 41.666667px; font-family: 'DejaVu Sans', 'Liberation Sans', sans-serif; text-anchor: middle; fill: #808080; opacity: 0.09" x="400.000333" y="312.0005" textLength="361.875">Predict-Price.com</text>
  </g>
  <g id="text_46">
   <text style="font-size: 41.666667px; font-family: 'DejaVu Sans', 'Liberation Sans', sans-serif; text-anchor: middle; fill: #808080; opacity: 0.09" x="400.000333" y="162.00025" textLength="361.875">Predict-Price.com</text>
  </g>
  <g id="text_47">
   <text style="font-size: 41.666667px; font-family: 'DejaVu Sans', 'Liberation Sans', sans-serif; text-anchor: middle; fill: #808080; opacity: 0.09" x="800.000667" y="462.00075" textLength="361.875">Predict-Price.com</text>
  </g>
  <g id="text_48">
   <text style="font-size: 41.666667px; font-family: 'DejaVu Sans', 'Liberation Sans', sans-serif; text-anchor: middle; fill: #808080; opacity: 0.09" x="800.000667" y="312.0005" textLength="361.875">Predict-Price.com</text>
  </g>
  <g id="text_49">
   <text style="font-size: 41.666667px; font-family: 'DejaVu Sans', 'Liberation Sans', sans-serif; text-anchor: middle; fill: #808080; opacity: 0.09" x="800.000667" y="162.00025" textLength="361.875">Predict-Price.com</text>
  </g>
 </g>
 <defs>
  <clipPath id="p4bee99dd8d">
   <rect x="70.652778" y="70.333333" width="1114.348222" height="206.556056"/>
  </clipPath>
  <clipPath id="p1dae02545b">
   <rect x="70.652778" y="335.167167" width="1114.348222" height="206.556056"/>
  </clipPath>
 </defs>
</svg>

</body>
</html>
